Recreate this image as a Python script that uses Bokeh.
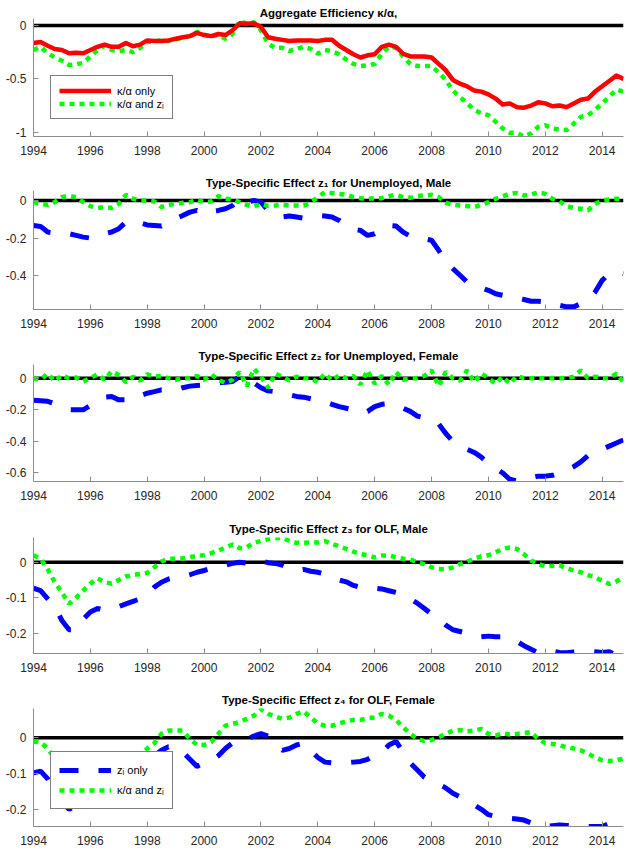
from bokeh.plotting import figure
from bokeh.layouts import column
from bokeh.models import FixedTicker, Legend, LegendItem, Span
from bokeh.embed import file_html
from bokeh.resources import INLINE

# quarterly time axis 1994Q1 .. 2014Q4
quarters = [1994 + i / 4 for i in range(84)]
x_ticks = [1994, 1996, 1998, 2000, 2002, 2004, 2006, 2008, 2010, 2012, 2014]

titles = [
    "Aggregate Efficiency \u03ba/\u03b1,",
    "Type-Specific Effect z\u2081 for Unemployed, Male",
    "Type-Specific Effect z\u2082 for Unemployed, Female",
    "Type-Specific Effect z\u2083 for OLF, Male",
    "Type-Specific Effect z\u2084 for OLF, Female",
]

# Panel 1: aggregate efficiency
agg_kappa_only = [
    -0.165, -0.156, -0.19, -0.22, -0.23, -0.26, -0.255, -0.26,
    -0.23, -0.20, -0.18, -0.20, -0.20, -0.165, -0.195, -0.18,
    -0.14, -0.146, -0.146, -0.14, -0.125, -0.11, -0.10, -0.07,
    -0.09, -0.10, -0.08, -0.09, -0.045, 0.02, 0.015, 0.02,
    -0.015, -0.11, -0.125, -0.135, -0.146, -0.14, -0.14, -0.14,
    -0.146, -0.135, -0.135, -0.19, -0.23, -0.27, -0.30, -0.28,
    -0.27, -0.20, -0.18, -0.20, -0.265, -0.29, -0.29, -0.29,
    -0.30, -0.36, -0.42, -0.51, -0.545, -0.57, -0.61, -0.62,
    -0.645, -0.685, -0.74, -0.73, -0.765, -0.77, -0.75, -0.72,
    -0.73, -0.757, -0.75, -0.765, -0.73, -0.695, -0.685, -0.62,
    -0.57, -0.52, -0.47, -0.50,
]
agg_kappa_and_z = [
    -0.23, -0.20, -0.26, -0.30, -0.33, -0.37, -0.365, -0.35,
    -0.29, -0.23, -0.19, -0.23, -0.24, -0.23, -0.25, -0.21,
    -0.155, -0.146, -0.14, -0.146, -0.13, -0.115, -0.10, -0.06,
    -0.085, -0.11, -0.085, -0.125, -0.08, 0.04, 0.015, 0.03,
    -0.045, -0.17, -0.21, -0.21, -0.24, -0.22, -0.20, -0.22,
    -0.265, -0.23, -0.24, -0.27, -0.32, -0.36, -0.38, -0.375,
    -0.36, -0.265, -0.20, -0.21, -0.29, -0.36, -0.38, -0.38,
    -0.38, -0.44, -0.51, -0.61, -0.67, -0.73, -0.79, -0.825,
    -0.84, -0.90, -0.965, -1.006, -1.006, -1.04, -1.01, -0.95,
    -0.935, -0.965, -0.975, -0.98, -0.92, -0.857, -0.84, -0.79,
    -0.73, -0.67, -0.60, -0.62,
]

# Panel 2: z1 unemployed male
z1_only = [
    -0.133, -0.138, -0.168, -0.173, -0.177, -0.177, -0.186, -0.195,
    -0.20, -0.195, -0.177, -0.168, -0.15, -0.115, -0.106, -0.119,
    -0.13, -0.133, -0.136, -0.115, -0.097, -0.08, -0.062, -0.053,
    -0.071, -0.058, -0.053, -0.044, -0.027, 0.009, -0.009, 0.0,
    -0.009, -0.053, -0.08, -0.088, -0.083, -0.088, -0.094, -0.088,
    -0.08, -0.083, -0.088, -0.106, -0.133, -0.154, -0.159, -0.186,
    -0.177, -0.15, -0.133, -0.136, -0.168, -0.19, -0.20, -0.204,
    -0.212, -0.265, -0.327, -0.363, -0.398, -0.434, -0.448, -0.465,
    -0.478, -0.496, -0.504, -0.513, -0.519, -0.527, -0.536, -0.536,
    -0.54, -0.554, -0.558, -0.566, -0.566, -0.549, -0.531, -0.487,
    -0.425, -0.389, -0.377, -0.389,
]
z1_with_kappa = [
    -0.009, -0.018, -0.023, -0.009, 0.018, 0.023, 0.018, -0.009,
    -0.03, -0.04, -0.035, -0.04, -0.018, 0.03, 0.009, 0.0,
    0.0, -0.005, -0.035, -0.023, -0.018, -0.012, -0.009, 0.004,
    -0.009, -0.005, 0.023, 0.009, 0.005, -0.009, -0.023, -0.032,
    -0.018, -0.03, -0.027, -0.023, -0.027, -0.027, -0.027, -0.012,
    0.018, 0.044, 0.04, 0.035, 0.03, 0.018, 0.012, 0.009,
    0.012, 0.012, 0.023, 0.03, 0.018, 0.014, 0.023, 0.027,
    0.03, 0.018, -0.012, -0.023, -0.027, -0.03, -0.035, -0.023,
    -0.009, 0.009, 0.023, 0.035, 0.04, 0.027, 0.03, 0.044,
    0.035, 0.009, -0.005, -0.03, -0.04, -0.044, -0.053, -0.018,
    0.0, 0.005, 0.009, 0.005,
]

# Panel 3: z2 unemployed female
z2_only = [
    -0.14, -0.143, -0.146, -0.162, -0.185, -0.2, -0.2, -0.2,
    -0.173, -0.14, -0.12, -0.116, -0.137, -0.137, -0.135, -0.11,
    -0.095, -0.085, -0.074, -0.078, -0.075, -0.06, -0.05, -0.046,
    -0.043, -0.036, -0.03, -0.025, -0.02, 0.01, 0.0, -0.03,
    -0.06, -0.08, -0.085, -0.1, -0.105, -0.115, -0.12, -0.13,
    -0.14, -0.15, -0.165, -0.18, -0.19, -0.2, -0.22, -0.21,
    -0.18, -0.165, -0.16, -0.17, -0.19, -0.21, -0.24, -0.25,
    -0.265, -0.29, -0.35, -0.4, -0.43, -0.45, -0.47, -0.5,
    -0.54, -0.57, -0.6, -0.64, -0.65, -0.64, -0.63, -0.62,
    -0.62, -0.615, -0.6, -0.585, -0.56, -0.53, -0.49, -0.47,
    -0.45, -0.43, -0.41, -0.39,
]
z2_with_kappa = [
    0.0, -0.01, 0.03, -0.02, 0.02, 0.0, 0.005, -0.02,
    0.0, 0.025, -0.01, 0.045, 0.02, -0.025, 0.01, -0.015,
    0.025, 0.01, 0.015, 0.0, -0.01, 0.0, 0.0, 0.015,
    -0.01, 0.025, -0.01, -0.03, -0.01, 0.04, -0.05, 0.06,
    0.01, -0.06, 0.03, 0.01, -0.015, 0.01, 0.0, 0.0,
    -0.025, 0.03, -0.015, 0.02, 0.0, 0.015, -0.04, 0.05,
    -0.035, 0.015, -0.04, 0.04, -0.01, 0.0, 0.0, 0.015,
    0.05, -0.05, 0.04, 0.0, -0.015, 0.05, -0.025, 0.03,
    0.0, -0.035, 0.01, -0.035, 0.015, 0.0, 0.0, 0.0,
    0.0, 0.0, 0.0, 0.0, 0.01, 0.05, 0.0, 0.01,
    0.0, 0.0, 0.03, -0.025,
]

# Panel 4: z3 OLF male
z3_only = [
    -0.073, -0.08, -0.103, -0.125, -0.164, -0.19, -0.19, -0.16,
    -0.14, -0.13, -0.135, -0.13, -0.125, -0.117, -0.11, -0.103,
    -0.092, -0.07, -0.056, -0.047, -0.042, -0.04, -0.035, -0.028,
    -0.023, -0.017, -0.01, -0.008, -0.003, 0.0, -0.002, 0.0,
    0.005, -0.001, -0.003, -0.008, -0.017, -0.023, -0.02, -0.025,
    -0.028, -0.033, -0.04, -0.05, -0.055, -0.065, -0.07, -0.075,
    -0.073, -0.075, -0.08, -0.085, -0.092, -0.103, -0.115, -0.13,
    -0.146, -0.16, -0.177, -0.19, -0.195, -0.2, -0.202, -0.21,
    -0.208, -0.21, -0.21, -0.214, -0.223, -0.235, -0.245, -0.255,
    -0.254, -0.25, -0.254, -0.255, -0.253, -0.252, -0.25, -0.252,
    -0.254, -0.252, -0.262, -0.26,
]
z3_with_kappa = [
    0.02, 0.01, -0.02, -0.056, -0.085, -0.117, -0.1, -0.08,
    -0.06, -0.045, -0.056, -0.06, -0.05, -0.04, -0.036, -0.033,
    -0.03, -0.014, 0.002, 0.01, 0.01, 0.011, 0.014, 0.019,
    0.02, 0.026, 0.033, 0.042, 0.05, 0.04, 0.042, 0.055,
    0.06, 0.066, 0.068, 0.07, 0.06, 0.055, 0.055, 0.056,
    0.056, 0.06, 0.052, 0.045, 0.038, 0.03, 0.023, 0.02,
    0.014, 0.019, 0.02, 0.014, 0.01, 0.008, 0.0, -0.005,
    -0.014, -0.019, -0.02, -0.014, -0.005, 0.002, 0.01, 0.017,
    0.02, 0.028, 0.038, 0.042, 0.038, 0.023, 0.005, -0.005,
    -0.011, -0.01, -0.008, -0.017, -0.023, -0.028, -0.036, -0.042,
    -0.052, -0.061, -0.054, -0.042,
]

# Panel 5: z4 OLF female
z4_only = [
    -0.098, -0.093, -0.115, -0.15, -0.18, -0.2, -0.19, -0.17,
    -0.15, -0.13, -0.12, -0.11, -0.105, -0.1, -0.09, -0.08,
    -0.07, -0.05, -0.035, -0.025, -0.025, -0.04, -0.06, -0.08,
    -0.07, -0.065, -0.05, -0.03, -0.014, -0.01, -0.005, 0.005,
    0.012, 0.005, -0.02, -0.035, -0.03, -0.02, -0.015, -0.035,
    -0.055, -0.068, -0.07, -0.072, -0.07, -0.068, -0.066, -0.06,
    -0.05, -0.04, -0.02, -0.01, -0.04, -0.07, -0.09, -0.11,
    -0.12, -0.13, -0.14, -0.155, -0.165, -0.175, -0.188, -0.2,
    -0.215, -0.22, -0.222, -0.225, -0.227, -0.23, -0.238, -0.245,
    -0.248, -0.246, -0.244, -0.245, -0.246, -0.247, -0.248, -0.248,
    -0.248, -0.24, -0.23, -0.22,
]
z4_with_kappa = [
    -0.01, -0.012, -0.03, -0.058, -0.08, -0.085, -0.08, -0.07,
    -0.062, -0.06, -0.065, -0.072, -0.075, -0.072, -0.06, -0.05,
    -0.03, -0.015, 0.011, 0.02, 0.022, 0.02, -0.003, -0.02,
    -0.02, -0.012, 0.011, 0.034, 0.039, 0.044, 0.053, 0.062,
    0.08, 0.067, 0.06, 0.053, 0.057, 0.067, 0.074, 0.057,
    0.04, 0.034, 0.034, 0.04, 0.046, 0.05, 0.05, 0.055,
    0.057, 0.067, 0.062, 0.05, 0.03, 0.011, -0.003, -0.009,
    -0.006, 0.002, 0.011, 0.02, 0.022, 0.018, 0.02, 0.025,
    0.011, 0.006, 0.013, 0.009, 0.011, 0.013, 0.016, -0.003,
    -0.015, -0.017, -0.021, -0.026, -0.03, -0.035, -0.044, -0.055,
    -0.063, -0.065, -0.063, -0.058,
]

y_ranges = [(-1.04, 0.065), (-0.58, 0.053), (-0.654, 0.087), (-0.257, 0.07), (-0.248, 0.082)]
y_ticks = [[-1, -0.5, 0], [-0.4, -0.2, 0], [-0.6, -0.4, -0.2, 0], [-0.2, -0.1, 0], [-0.2, -0.1, 0]]
y_tick_labels = [["-1", "-0.5", "0"], ["-0.4", "-0.2", "0"], ["-0.6", "-0.4", "-0.2", "0"],
                 ["-0.2", "-0.1", "0"], ["-0.2", "-0.1", "0"]]

FONT = "Liberation Sans"
RED = "#ff0000"
GREEN = "#00ff00"
BLUE = "#0000ff"

heights = [168, 173, 172, 172, 165]
tops = [18, 22, 23, 24, 23]
bottoms = [32, 32, 32, 32, 24]
title_standoff = [0, 3, 5, 5, 5]


def make_panel(i):
    p = figure(width=626, height=heights[i], x_range=(1994, 2014.75), y_range=y_ranges[i],
               output_backend="svg", toolbar_location=None, title=titles[i],
               min_border_left=33, min_border_right=3, min_border_top=tops[i],
               min_border_bottom=bottoms[i])
    p.outline_line_color = None
    p.grid.visible = False
    p.background_fill_color = "white"
    p.title.align = "center"
    p.title.text_font = FONT
    p.title.text_font_size = "11.5px"
    p.title.text_font_style = "bold"
    p.title.text_color = "black"
    p.title.standoff = title_standoff[i]
    p.title.offset = 15

    for ax in (p.xaxis[0], p.yaxis[0]):
        ax.axis_line_color = "#8c8c8c"
        ax.axis_line_width = 1
        ax.major_tick_line_color = "#8c8c8c"
        ax.major_tick_in = 5
        ax.major_tick_out = 0
        ax.minor_tick_line_color = None
        ax.major_label_text_font = FONT
        ax.major_label_text_font_size = "12px"
        ax.major_label_text_color = "#262626"
    p.xaxis.ticker = FixedTicker(ticks=x_ticks)
    p.xaxis.major_label_standoff = 9
    p.yaxis.ticker = FixedTicker(ticks=y_ticks[i])
    p.yaxis.major_label_overrides = {t: s for t, s in zip(y_ticks[i], y_tick_labels[i])}
    p.yaxis.major_label_standoff = 7

    p.add_layout(Span(location=0, dimension="width", line_color="black", line_width=3.5,
                      level="underlay"))
    return p


panels = [make_panel(i) for i in range(5)]

# Panel 1
p = panels[0]
r_green = p.line(quarters, agg_kappa_and_z, line_color=GREEN, line_width=4.5, line_dash="5 5")
r_red = p.line(quarters, agg_kappa_only, line_color=RED, line_width=4.5, line_join="round")
leg = Legend(items=[LegendItem(label="\u03ba/\u03b1 only", renderers=[r_red]),
                    LegendItem(label="\u03ba/\u03b1 and z\u1d62", renderers=[r_green])],
             location=(17, 17))
p.add_layout(leg)
leg.label_height = 13
leg.glyph_height = 13

# Panels 2-5
series = [(z1_only, z1_with_kappa), (z2_only, z2_with_kappa), (z3_only, z3_with_kappa),
          (z4_only, z4_with_kappa)]
for k, (only, withk) in enumerate(series):
    p = panels[k + 1]
    rb = p.line(quarters, only, line_color=BLUE, line_width=5, line_dash="19 20")
    rg = p.line(quarters, withk, line_color=GREEN, line_width=4.5, line_dash="5 5")
    if k == 3:
        leg = Legend(items=[LegendItem(label="z\u1d62 only", renderers=[rb]),
                            LegendItem(label="\u03ba/\u03b1 and z\u1d62", renderers=[rg])],
                     location=(17, 17))
        p.add_layout(leg)
        leg.label_height = 20
        leg.glyph_height = 20

for p in panels:
    for l in p.legend:
        l.border_line_color = "black"
        l.border_line_width = 1
        l.background_fill_color = "white"
        l.background_fill_alpha = 1
        l.label_text_font = FONT
        l.label_text_font_size = "11px"
        l.label_text_color = "black"
        l.glyph_width = 52
        l.padding = 8
        l.spacing = 0
        l.margin = 0
        l.label_standoff = 6

layout = column(*panels, spacing=0)
open("out.html", "w").write(file_html(layout, INLINE))
